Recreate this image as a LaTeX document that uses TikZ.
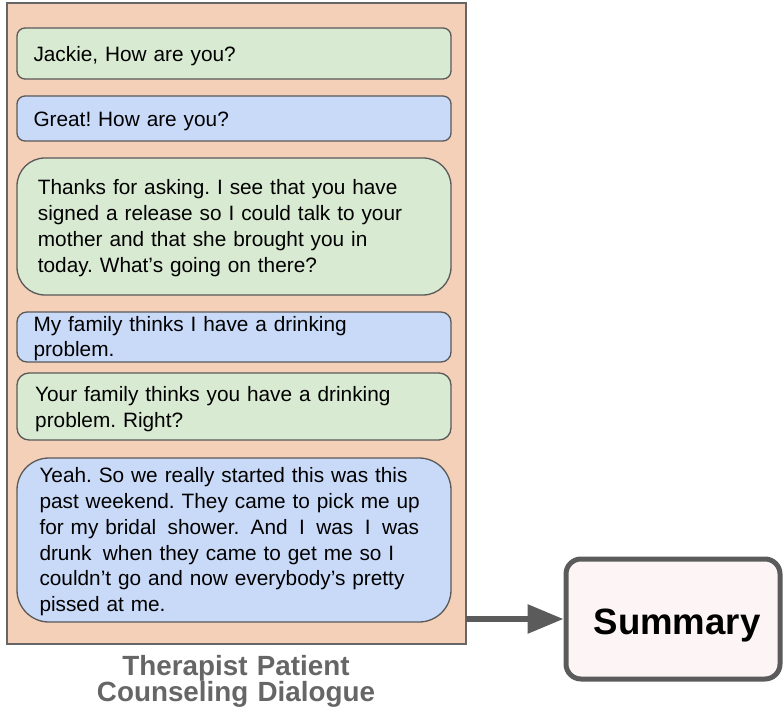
\documentclass[tikz,border=0pt]{standalone}
\usepackage{fontspec}
\setmainfont{Liberation Sans}
\usetikzlibrary{arrows.meta}
\frenchspacing

\definecolor{frameFill}{HTML}{F3D0B7}
\definecolor{frameLine}{HTML}{666666}
\definecolor{therapistFill}{HTML}{D9EAD3}
\definecolor{patientFill}{HTML}{C9DAF8}
\definecolor{bubbleLine}{HTML}{595959}
\definecolor{summaryFill}{HTML}{FDF5F5}
\definecolor{summaryLine}{HTML}{5B5B5B}
\definecolor{captionGray}{HTML}{666666}

% a slightly widened word gap
\newcommand{\wgap}{\ \hspace{4.5pt}}

\tikzset{
  bubble/.style={draw=bubbleLine, line width=1.3pt, minimum width=434pt,
    inner sep=0pt, outer sep=0pt},
  therapist/.style={bubble, fill=therapistFill},
  patient/.style={bubble, fill=patientFill},
  utter/.style={anchor=base west, inner sep=0pt, text width=430pt, align=left,
    font=\fontsize{20.8}{25.8}\selectfont},
  caption/.style={anchor=base, inner sep=0pt, text width=400pt, align=center,
    text=captionGray, font=\bfseries\fontsize{27.8}{20.5}\selectfont},
  flow/.style={draw=summaryLine, line width=6pt,
    -{Triangle[length=36pt, width=28pt]}},
}

\begin{document}
\begin{tikzpicture}[x=1pt, y=-1pt]
  \useasboundingbox (0,0) rectangle (783,708);

  % dialogue frame
  \node[draw=frameLine, fill=frameFill, line width=1.5pt, minimum width=459pt,
        minimum height=641pt, inner sep=0pt, outer sep=0pt] (dlg) at (236.5,323.5) {};

  % speech bubbles
  \node[therapist, rounded corners=8pt, minimum height=51pt] (b1) at (234,53.5) {};
  \node[patient, rounded corners=8pt, minimum height=45pt] (b2) at (234,118.5) {};
  \node[therapist, rounded corners=28pt, minimum height=137pt] (b3) at (234,226.5) {};
  \node[patient, rounded corners=10pt, minimum height=50pt] (b4) at (234,337) {};
  \node[therapist, rounded corners=12pt, minimum height=67pt] (b5) at (234,406.5) {};
  \node[patient, rounded corners=32pt, minimum height=164pt] (b6) at (234,540) {};

  % utterances
  \node[utter] (t1) at (33.3,61.7) {Jackie, How are you?};
  \node[utter] (t2) at (33.3,126.7) {Great! How are you?};
  \node[utter] (t3) at (37.7,195) {Thanks for asking. I see that you have\\
    signed a release so I could talk to your\\
    mother and that she brought you in\\
    today. What’s going on there?};
  \node[utter, font=\fontsize{20.8}{25}\selectfont] (t4) at (33.3,331.7) {My family thinks I have a drinking\\
    problem.};
  \node[utter] (t5) at (35,401.7) {Your family thinks you have a drinking\\
    problem. Right?};
  \node[utter] (t6) at (39.3,482.7) {Yeah. So we really started this was this\\
    past weekend. They came to pick me up\\
    for my bridal\wgap shower.\wgap And\wgap I\wgap was\wgap I\wgap was\\
    drunk\wgap when they came to get me so I\\
    couldn’t go and now everybody’s pretty\\
    pissed at me.};

  % caption under the frame
  \node[caption] (cap) at (236,675) {Therapist Patient\\Counseling Dialogue};

  % summary box
  \node[draw=summaryLine, fill=summaryFill, line width=5pt, rounded corners=15pt,
        minimum width=214pt, minimum height=120pt, inner sep=0pt] (sum) at (673,619) {};
  \node[anchor=base, inner sep=0pt, font=\bfseries\fontsize{36.6}{40}\selectfont]
        (sumlabel) at (677,634.3) {Summary};

  % connector
  \draw[flow] (dlg.east |- sum.west) -- (sum.west);
\end{tikzpicture}
\end{document}
